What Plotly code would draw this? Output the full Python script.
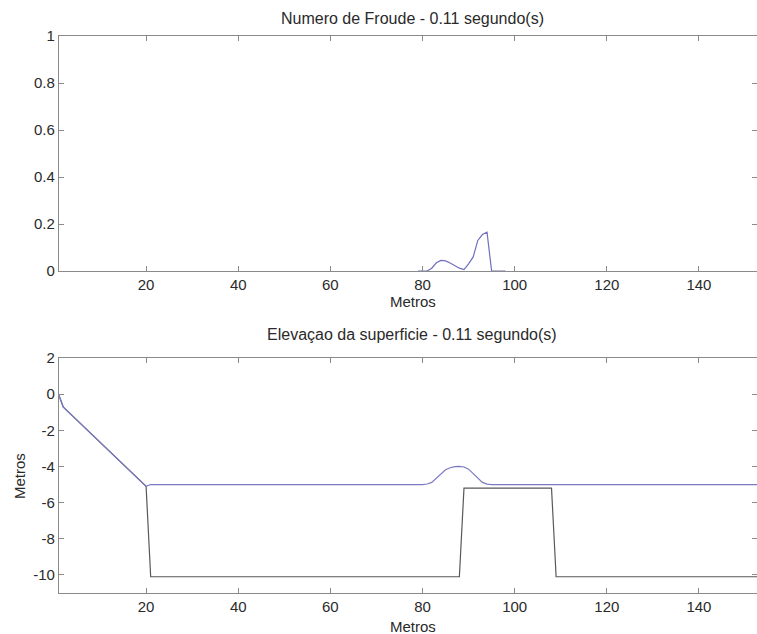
import plotly.graph_objects as go

# Top panel: Froude number
froude_x = [79, 80, 81, 82, 83, 84, 85, 86, 87, 88, 89, 90, 91, 92, 93, 94, 95, 96, 97, 98]
froude_y = [0, 0, 0, 0.012, 0.035, 0.045, 0.043, 0.034, 0.022, 0.012, 0.006, 0.03, 0.06, 0.13, 0.155, 0.165, 0, 0, 0, 0]

# Bottom panel: bed profile
bed_x = [1, 2, 20, 21, 88, 89, 108, 109, 153]
bed_y = [0, -0.7, -5.1, -10.1, -10.1, -5.2, -5.2, -10.1, -10.1]

# Bottom panel: water surface
surf_x = [1, 2, 20, 21, 80, 81, 82, 83, 84, 85, 86, 87, 88, 89, 90, 91, 92, 93, 94, 95, 153]
surf_y = [0, -0.7, -5.1, -5.0, -5.0, -4.97, -4.88, -4.65, -4.38, -4.18, -4.07, -4.01, -4.0, -4.03, -4.15, -4.38, -4.65, -4.88, -4.98, -5.0, -5.0]

top_yticks = [0, 0.2, 0.4, 0.6, 0.8, 1]
bot_yticks = [-10, -8, -6, -4, -2, 0, 2]
xticks = [20, 40, 60, 80, 100, 120, 140]

W, H = 757, 634
FAM = "Liberation Sans, Arial, sans-serif"
TXT = "#2a2a2a"
font = dict(family=FAM, size=15, color=TXT)
tfont = dict(family=FAM, size=15, color=TXT)
hfont = dict(family=FAM, size=16, color=TXT)
axcol = "#8a8a8a"

fig = go.Figure()
fig.add_trace(go.Scatter(x=froude_x, y=froude_y, mode="lines",
                         line=dict(color="#6f6fc0", width=1.2), xaxis="x", yaxis="y", showlegend=False))
fig.add_trace(go.Scatter(x=bed_x, y=bed_y, mode="lines",
                         line=dict(color="#585858", width=1.2), xaxis="x2", yaxis="y2", showlegend=False))
fig.add_trace(go.Scatter(x=surf_x, y=surf_y, mode="lines",
                         line=dict(color="#7a7ac4", width=1.2), xaxis="x2", yaxis="y2", showlegend=False))

xdom = [59 / W, 1.0]
top_dom = [(H - 271) / H, (H - 36) / H]
bot_dom = [(H - 593) / H, (H - 358) / H]

axis_common = dict(showline=True, linecolor=axcol, linewidth=1.3, mirror="ticks",
                   ticks="inside", ticklen=5, tickcolor=axcol, showgrid=False, zeroline=False,
                   tickfont=font, automargin=False)


def ann(text, px, py, angle=0, f=tfont):
    return dict(text=text, x=px / W, y=(H - py) / H, xref="paper", yref="paper",
                xanchor="center", yanchor="middle", textangle=angle, showarrow=False, font=f)


fig.update_layout(
    width=W, height=H, margin=dict(l=0, r=0, t=0, b=0, pad=0, autoexpand=False),
    paper_bgcolor="white", plot_bgcolor="white", font=font,
    xaxis=dict(domain=xdom, anchor="y", range=[1.1, 152.6], tickvals=xticks, **axis_common),
    yaxis=dict(domain=top_dom, anchor="x", range=[0, 1], tickvals=top_yticks,
               ticktext=["0", "0.2", "0.4", "0.6", "0.8", "1"], **axis_common),
    xaxis2=dict(domain=xdom, anchor="y2", range=[1.1, 152.6], tickvals=xticks, **axis_common),
    yaxis2=dict(domain=bot_dom, anchor="x2", range=[-11, 2], tickvals=bot_yticks,
                ticktext=["-10", "-8", "-6", "-4", "-2", "0", "2"], **axis_common),
    annotations=[
        ann("Numero de Froude - 0.11 segundo(s)", 412, 18, f=hfont),
        ann("Metros", 413, 301),
        ann("Elevaçao da superficie - 0.11 segundo(s)", 412, 334, f=hfont),
        ann("Metros", 413, 626),
        ann("Metros", 19, 476, -90),
    ],
)

fig.write_html("out.html", config={"displayModeBar": False},
               post_script="document.body.style.margin='0';document.body.style.overflow='hidden';")
